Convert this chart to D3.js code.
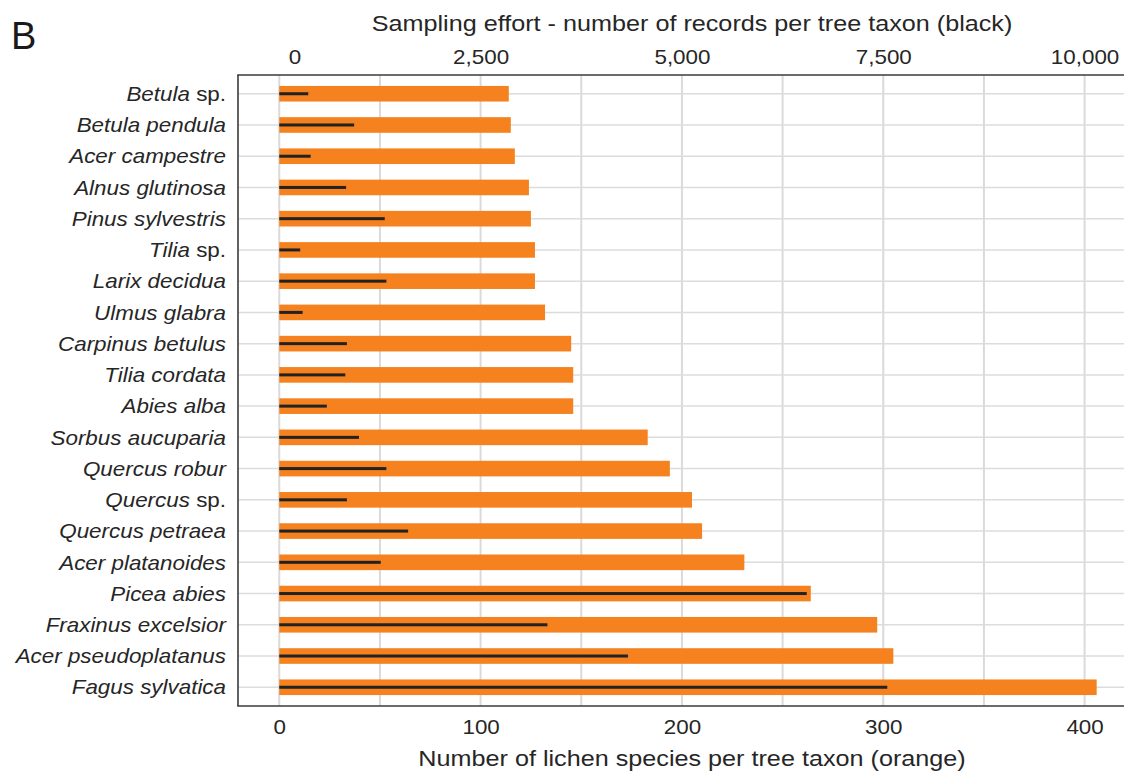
<!DOCTYPE html>
<html>
<head>
<meta charset="utf-8">
<script src="https://cdn.jsdelivr.net/npm/d3@7"></script>
<style>
  html, body { margin: 0; padding: 0; background: #fff; }
  svg { display: block; font-family: "Liberation Sans", Arial, Helvetica, sans-serif; }
</style>
</head>
<body>
<svg id="chart" width="1124" height="771"></svg>
<script>
// Tree taxa, top to bottom
const taxa = [
  "Betula sp.", "Betula pendula", "Acer campestre", "Alnus glutinosa",
  "Pinus sylvestris", "Tilia sp.", "Larix decidua", "Ulmus glabra",
  "Carpinus betulus", "Tilia cordata", "Abies alba", "Sorbus aucuparia",
  "Quercus robur", "Quercus sp.", "Quercus petraea", "Acer platanoides",
  "Picea abies", "Fraxinus excelsior", "Acer pseudoplatanus", "Fagus sylvatica"
];

// Number of lichen species per tree taxon (orange bars)
const lichenSpecies = [
  114, 115, 117, 124, 125, 127, 127, 132, 145, 146,
  146, 183, 194, 205, 210, 231, 264, 297, 305, 406
];

// Sampling effort: number of records per tree taxon (black lines)
const records = [
  360, 930, 390, 830, 1310, 260, 1330, 290, 840, 820,
  590, 990, 1330, 840, 1600, 1260, 6550, 3330, 4330, 7550
];

const bottomTicks = [0, 100, 200, 300, 400];
const gridStep = [0, 50, 100, 150, 200, 250, 300, 350, 400];
const topTicks = [0, 2500, 5000, 7500, 10000];
const recordsPerSpecies = 25; // secondary axis factor

const svg = d3.select("#chart");
const m = { left: 238, top: 75, bottom: 706, right: 1146 };
const stretch = "scale(1.12,1)"; // slightly wide text face

const x = d3.scaleLinear().domain([-20.5, 430.5]).range([m.left, m.right]);
const xTop = d3.scaleLinear()
  .domain(x.domain().map(d => d * recordsPerSpecies))
  .range(x.range());
const y = d3.scaleBand().domain(taxa).range([m.top, m.bottom])
  .paddingOuter(0.1).paddingInner(0).align(0.5);
const yc = d => y(d) + y.bandwidth() / 2;

const textCol = "#262626";
const grid = svg.append("g");

// vertical grid lines
grid.selectAll("line.v").data(gridStep).join("line")
  .attr("x1", d => x(d)).attr("x2", d => x(d))
  .attr("y1", m.top).attr("y2", m.bottom)
  .attr("stroke", "#dadada").attr("stroke-width", 2);

// horizontal grid lines at each taxon
grid.selectAll("line.h").data(taxa).join("line")
  .attr("x1", m.left).attr("x2", m.right)
  .attr("y1", d => yc(d)).attr("y2", d => yc(d))
  .attr("stroke", "#dcdcdc").attr("stroke-width", 1.5);

const barH = y.bandwidth() * 0.5;

// orange bars: lichen species
svg.append("g").selectAll("rect").data(taxa).join("rect")
  .attr("x", x(0))
  .attr("y", d => yc(d) - barH / 2)
  .attr("width", (d, i) => x(lichenSpecies[i]) - x(0))
  .attr("height", barH)
  .attr("fill", "#F5821F");

// black lines: sampling effort
const lineH = 3;
svg.append("g").selectAll("rect").data(taxa).join("rect")
  .attr("x", xTop(0))
  .attr("y", d => yc(d) - lineH / 2)
  .attr("width", (d, i) => xTop(records[i]) - xTop(0))
  .attr("height", lineH)
  .attr("fill", "#222");

// axis lines (left, top, bottom)
const axisCol = "#3a3a3a";
svg.append("line").attr("x1", m.left).attr("x2", m.left)
  .attr("y1", m.top).attr("y2", m.bottom)
  .attr("stroke", axisCol).attr("stroke-width", 1.6);
svg.append("line").attr("x1", m.left - 0.8).attr("x2", m.right)
  .attr("y1", m.top).attr("y2", m.top)
  .attr("stroke", axisCol).attr("stroke-width", 1.6);
svg.append("line").attr("x1", m.left - 0.8).attr("x2", m.right)
  .attr("y1", m.bottom).attr("y2", m.bottom)
  .attr("stroke", axisCol).attr("stroke-width", 1.6);

// bottom axis
const axB = svg.append("g").attr("transform", `translate(0,${m.bottom})`)
  .call(d3.axisBottom(x).tickValues(bottomTicks).tickSize(0).tickPadding(14)
    .tickFormat(d3.format("d")));
axB.select(".domain").remove();
axB.selectAll("text").attr("font-size", 20).attr("fill", textCol)
  .attr("font-family", "Liberation Sans, Arial, sans-serif")
  .attr("transform", stretch);

// top axis
const axT = svg.append("g").attr("transform", `translate(0,${m.top})`)
  .call(d3.axisTop(xTop).tickValues(topTicks).tickSize(0).tickPadding(11)
    .tickFormat(d3.format(",")));
axT.select(".domain").remove();
axT.selectAll("text").attr("font-size", 20).attr("fill", textCol)
  .attr("font-family", "Liberation Sans, Arial, sans-serif")
  .attr("dx", d => d === 0 ? 13.5 : 0)
  .attr("transform", stretch);

// taxon labels (genus/species in italics, "sp." upright)
const lab = svg.append("g").selectAll("g").data(taxa).join("g")
  .attr("transform", d => `translate(226,${yc(d)})`)
  .append("text")
  .attr("transform", stretch)
  .attr("dy", "0.36em")
  .attr("text-anchor", "end").attr("font-size", 20).attr("fill", textCol);
lab.each(function(d) {
  const t = d3.select(this);
  if (d.endsWith(" sp.")) {
    t.append("tspan").attr("font-style", "italic").text(d.slice(0, -4));
    t.append("tspan").text(" sp.");
  } else {
    t.append("tspan").attr("font-style", "italic").text(d);
  }
});

// axis titles
const cx = (m.left + m.right) / 2;
svg.append("g").attr("transform", `translate(${cx},31)`)
  .append("text").attr("transform", stretch).attr("text-anchor", "middle")
  .attr("font-size", 22.5).attr("fill", textCol)
  .text("Sampling effort - number of records per tree taxon (black)");
svg.append("g").attr("transform", `translate(${cx},766)`)
  .append("text").attr("transform", stretch).attr("text-anchor", "middle")
  .attr("font-size", 22.5).attr("fill", textCol)
  .text("Number of lichen species per tree taxon (orange)");

// panel tag
svg.append("text").attr("x", 11).attr("y", 49)
  .attr("font-size", 38).attr("fill", "#1a1a1a").text("B");
</script>
</body>
</html>
